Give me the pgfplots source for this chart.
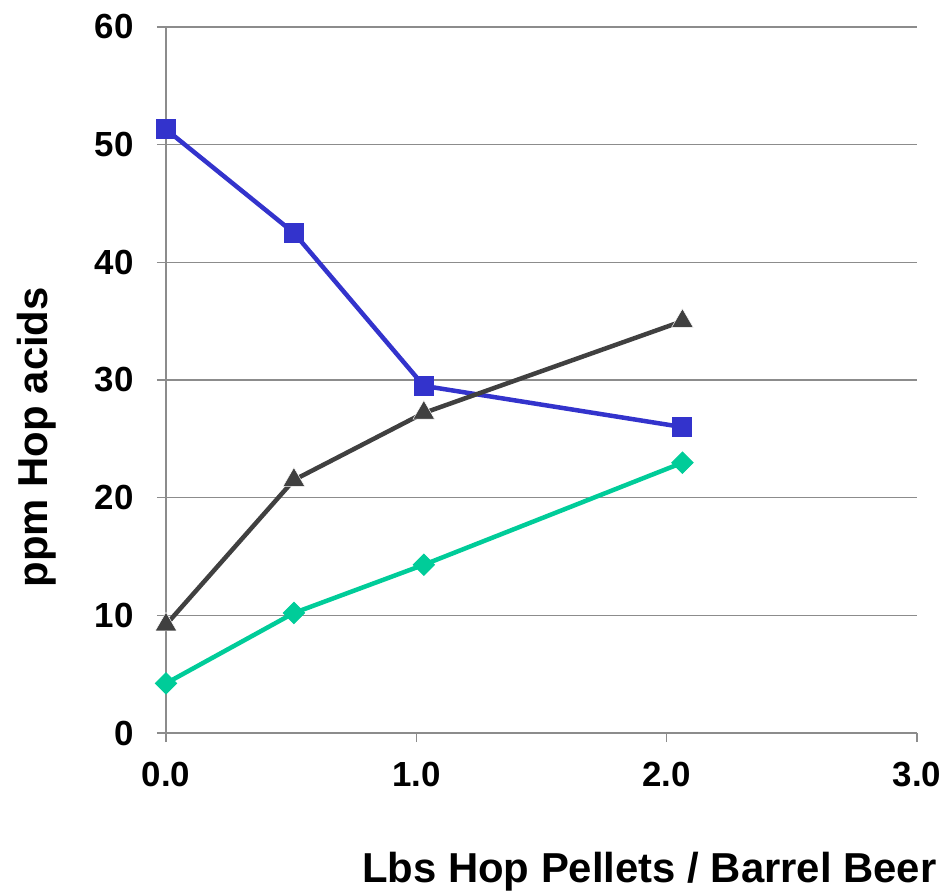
\documentclass[border=0pt]{standalone}
\usepackage{fontspec}
\setmainfont{Liberation Sans}
\usepackage{pgfplots}
\pgfplotsset{compat=1.18}
\definecolor{sblue}{HTML}{3333CC}
\definecolor{sgray}{HTML}{404040}
\definecolor{sgreen}{HTML}{00CC99}
\definecolor{gridc}{HTML}{8C8C8C}
\begin{document}
\begin{tikzpicture}
\begin{axis}[
  at={(0,0)}, anchor=south west,
  scale only axis, width=751bp, height=706bp,
  xmin=0, xmax=3, ymin=0, ymax=60,
  xtick={0,1,2,3}, ytick={0,10,...,60},
  axis lines*=left,
  axis line style={gridc, line width=1.5bp},
  tick style={gridc, line width=1.5bp},
  major tick length=9bp, tick align=outside,
  ymajorgrids, grid style={gridc, line width=1.5bp},
  /pgf/number format/assume math mode=true,
  xticklabel={\pgfmathprintnumber[fixed, fixed zerofill, precision=1]{\tick}},
  ticklabel style={font=\fontsize{35}{42}\selectfont\bfseries},
  xticklabel style={yshift=-17bp},
  yticklabel style={xshift=-20bp},
  xlabel={Lbs Hop Pellets / Barrel Beer},
  ylabel={ppm Hop acids},
  label style={font=\fontsize{42}{50}\selectfont\bfseries},
  xlabel style={at={(axis description cs:1.0306,-0.197)}, anchor=east},
  ylabel style={at={(axis description cs:-0.172,0.419)}, anchor=center},
  clip=false,
]
\addplot[sblue, line width=4.5bp, mark=square*, mark size=9.5bp, mark options={solid, line width=1bp}]
  coordinates {(0,51.3) (0.511,42.5) (1.03,29.5) (2.063,26.0)};
\addplot[sgray, line width=4.5bp, mark=triangle*, mark size=12.5bp, mark options={solid, draw=white, line width=0.5bp}]
  coordinates {(0,9.2) (0.511,21.5) (1.03,27.2) (2.063,35.0)};
\addplot[sgreen, line width=4.5bp, mark=square*, mark size=7.5bp, mark options={solid, rotate=45, line width=1bp}]
  coordinates {(0,4.22) (0.511,10.2) (1.03,14.3) (2.063,22.97)};
\end{axis}
\pgfresetboundingbox
\path[use as bounding box] (-166bp,-159bp) rectangle (779bp,733bp);
\end{tikzpicture}
\end{document}
